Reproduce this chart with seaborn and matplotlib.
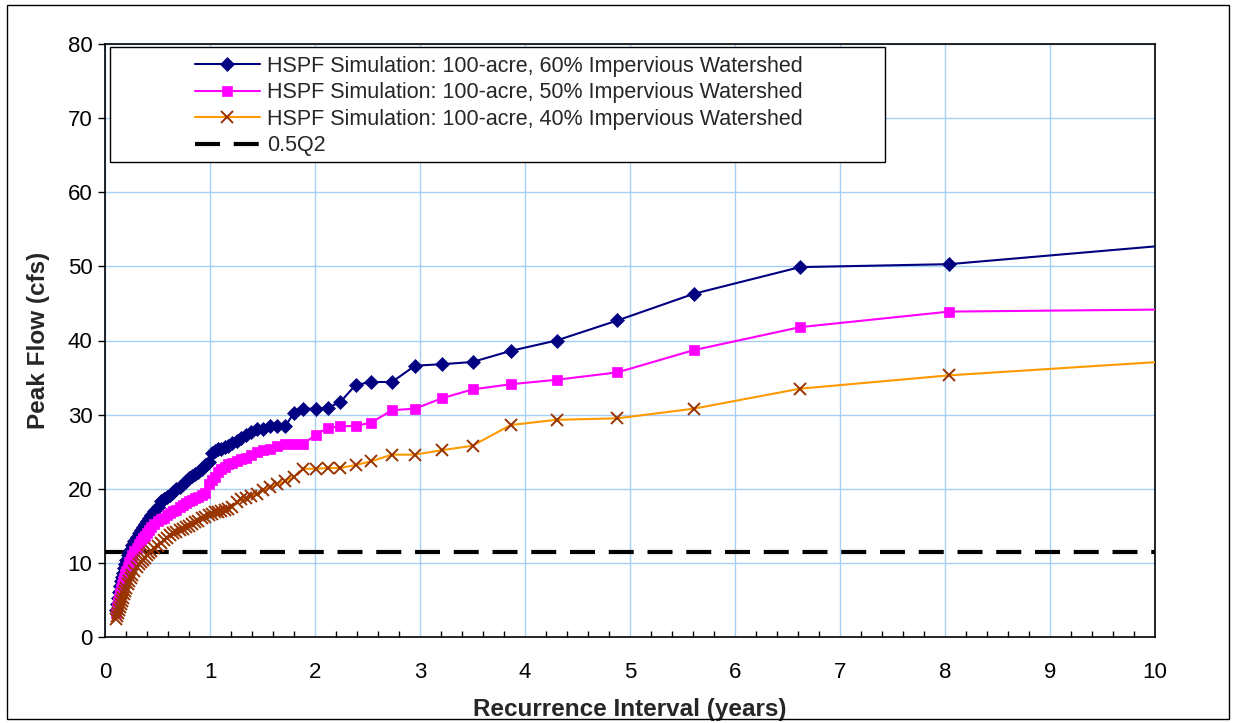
import matplotlib
matplotlib.use("Agg")
import matplotlib.pyplot as plt
from matplotlib.patches import Rectangle
from matplotlib.ticker import MultipleLocator
import seaborn as sns

# Recurrence interval (years) of each ranked simulated peak
recurrence_years = [
    0.10, 0.11, 0.12, 0.13, 0.14, 0.15, 0.16, 0.17, 0.18, 0.19,
    0.20, 0.215, 0.23, 0.245, 0.26, 0.28, 0.30, 0.32, 0.34, 0.36,
    0.38, 0.40, 0.42, 0.44, 0.47, 0.50, 0.53, 0.56, 0.59, 0.62,
    0.65, 0.68, 0.71, 0.74, 0.77, 0.80, 0.83, 0.86, 0.89, 0.92,
    0.95, 0.988, 1.015, 1.044, 1.074, 1.105, 1.139, 1.175, 1.213, 1.254,
    1.297, 1.344, 1.395, 1.449, 1.507, 1.571, 1.640, 1.715, 1.798, 1.889,
    2.006, 2.12, 2.241, 2.387, 2.533, 2.733, 2.952, 3.207, 3.50, 3.864,
    4.30, 4.88, 5.607, 6.619, 8.04, 10.25,
]

peak_60 = [
    3.6, 4.5, 5.3, 6.1, 6.9, 7.5, 8.1, 8.7, 9.3, 9.9,
    10.4, 11.0, 11.5, 11.9, 12.4, 13.0, 13.5, 14.0, 14.5, 14.9,
    15.3, 15.7, 16.1, 16.5, 17.0, 17.6, 18.3, 18.6, 18.9, 19.2,
    19.6, 19.9, 20.3, 20.7, 21.1, 21.4, 21.7, 22.0, 22.3, 22.7,
    23.2, 23.6, 24.8, 25.1, 25.3, 25.4, 25.6, 25.8, 26.2, 26.5,
    26.9, 27.2, 27.6, 28.0, 28.1, 28.4, 28.5, 28.4, 30.2, 30.8,
    30.8, 30.9, 31.7, 34.0, 34.4, 34.4, 36.6, 36.8, 37.1, 38.6,
    40.0, 42.7, 46.3, 49.9, 50.3, 53.0,
]

peak_50 = [
    3.2, 4.0, 4.7, 5.3, 5.9, 6.5, 7.0, 7.5, 8.0, 8.5,
    8.9, 9.5, 10.1, 10.5, 11.0, 11.6, 12.0, 12.5, 12.9, 13.3,
    13.6, 14.0, 14.4, 14.8, 15.2, 15.6, 15.9, 16.1, 16.4, 16.7,
    17.0, 17.2, 17.5, 17.8, 18.1, 18.3, 18.5, 18.7, 18.9, 19.1,
    19.4, 20.6, 21.2, 21.6, 22.2, 22.7, 23.0, 23.3, 23.5, 23.8,
    24.0, 24.2, 24.6, 25.0, 25.2, 25.4, 25.8, 26.0, 26.0, 26.0,
    27.3, 28.2, 28.4, 28.5, 28.9, 30.6, 30.8, 32.2, 33.4, 34.1,
    34.7, 35.7, 38.7, 41.8, 43.9, 44.2,
]

peak_40 = [
    2.4, 2.8, 3.2, 3.6, 4.0, 4.4, 4.9, 5.3, 5.8, 6.2,
    6.6, 7.1, 7.6, 8.0, 8.4, 8.9, 9.4, 9.8, 10.1, 10.4,
    10.7, 11.0, 11.3, 11.6, 12.0, 12.3, 12.7, 13.1, 13.4, 13.7,
    14.0, 14.2, 14.4, 14.6, 14.8, 15.0, 15.2, 15.5, 15.7, 16.0,
    16.2, 16.4, 16.6, 16.8, 16.9, 17.0, 17.2, 17.3, 17.6, 18.2,
    18.6, 18.7, 19.0, 19.3, 19.8, 20.2, 20.6, 21.0, 21.6, 22.7,
    22.7, 22.8, 22.8, 23.2, 23.7, 24.6, 24.6, 25.2, 25.8, 28.6,
    29.3, 29.5, 30.8, 33.5, 35.3, 37.3,
]

half_q2 = 11.4

labels = [
    "HSPF Simulation: 100-acre, 60% Impervious Watershed",
    "HSPF Simulation: 100-acre, 50% Impervious Watershed",
    "HSPF Simulation: 100-acre, 40% Impervious Watershed",
    "0.5Q2",
]
x_ticks = [0, 1, 2, 3, 4, 5, 6, 7, 8, 9, 10]
y_ticks = [0, 10, 20, 30, 40, 50, 60, 70, 80]

sns.set_style("white")
plt.rcParams["font.family"] = ["Liberation Sans", "DejaVu Sans"]

W, H = 1236, 723
fig = plt.figure(figsize=(W / 100, H / 100), dpi=100)
fig.patches.append(Rectangle((7 / W, 4 / H), 1222 / W, 714 / H, transform=fig.transFigure,
                             fill=False, edgecolor="black", linewidth=1.0))
ax = fig.add_axes([105 / W, 1 - 637 / H, 1050 / W, 593 / H])

# dashed reference line (under the series)
ax.axhline(half_q2, color="black", linewidth=3.0, dashes=(6.0, 3.3), zorder=1.5, label=labels[3])

sns.lineplot(x=recurrence_years, y=peak_60, ax=ax, estimator=None, sort=False,
             color="#000080", linewidth=1.5, marker="D", markersize=7.5,
             markeredgecolor="#000080", markeredgewidth=0.5, label=labels[0], zorder=3)
sns.lineplot(x=recurrence_years, y=peak_50, ax=ax, estimator=None, sort=False,
             color="#FF00FF", linewidth=1.5, marker="s", markersize=6.5,
             markeredgecolor="#FF00FF", markeredgewidth=0.5, label=labels[1], zorder=3)
sns.lineplot(x=recurrence_years, y=peak_40, ax=ax, estimator=None, sort=False,
             color="#FF9900", linewidth=1.5, marker="x", markersize=8,
             markeredgecolor="#993300", markeredgewidth=1.4, label=labels[2], zorder=3)

ax.set_xlim(0, 10)
ax.set_ylim(0, 80)
ax.set_xticks(x_ticks)
ax.set_yticks(y_ticks)
ax.xaxis.set_minor_locator(MultipleLocator(0.2))
ax.grid(True, which="major", color="#A6CFF5", linewidth=1.0)
ax.set_axisbelow(True)
for s in ax.spines.values():
    s.set_color("black")
    s.set_linewidth(1.2)

ax.tick_params(axis="x", which="major", direction="in", length=6, width=1, labelsize=16,
               pad=18, colors="black")
ax.tick_params(axis="x", which="minor", direction="in", length=4, width=1, colors="black",
               bottom=True)
ax.tick_params(axis="y", which="major", direction="out", length=5, width=1, labelsize=16,
               pad=4, colors="black", left=True)

ax.set_xlabel("Recurrence Interval (years)", fontsize=17.5, fontweight="bold", labelpad=10.5)
ax.set_ylabel("Peak Flow (cfs)", fontsize=17.5, fontweight="bold", labelpad=13)

# legend box + entries
ax.add_patch(Rectangle((5 / 1050, (637 - 162) / 593), 775 / 1050, 115 / 593,
                       transform=ax.transAxes, facecolor="white", edgecolor="black",
                       linewidth=1.0, zorder=4))
handles, labs = ax.get_legend_handles_labels()
order = [labs.index(l) for l in labels]
leg = ax.legend([handles[i] for i in order], [labs[i] for i in order],
                loc="upper left", bbox_to_anchor=((195 - 105) / 1050, (637 - 56) / 593),
                frameon=False, fontsize=15.5, handlelength=3.0, handletextpad=0.35,
                labelspacing=0.25, borderpad=0, borderaxespad=0)
leg.set_zorder(5)

fig.savefig("out.png", dpi=100)
